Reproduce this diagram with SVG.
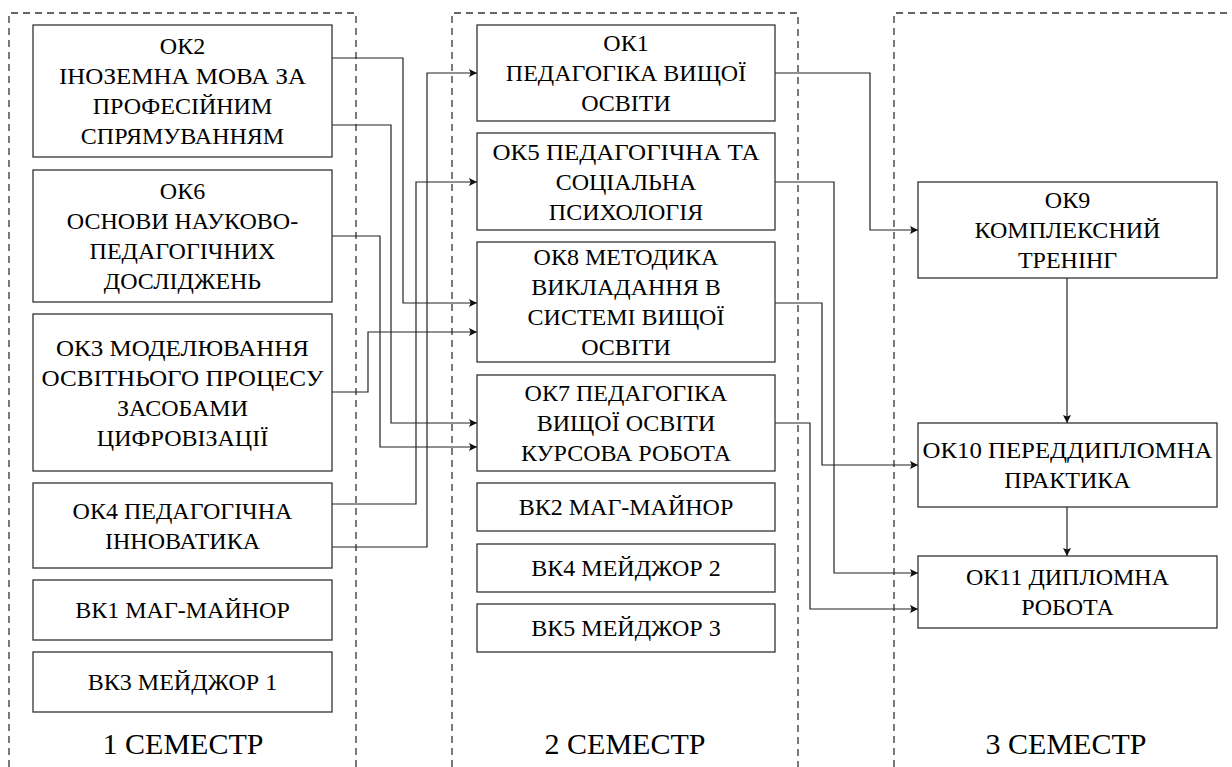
<svg xmlns="http://www.w3.org/2000/svg" width="1232" height="767" viewBox="0 0 1232 767">
<defs>
<marker id="arr" viewBox="0 0 10 10" refX="10" refY="5" markerWidth="10" markerHeight="8" orient="auto" markerUnits="userSpaceOnUse">
<path d="M0,0 L10,5 L0,10 L2,5 z" fill="#111"/>
</marker>
</defs>
<rect x="0" y="0" width="1232" height="767" fill="#ffffff"/>
<g id="semesters">
<g fill="none" stroke="#333" stroke-width="1.3" stroke-dasharray="7 5">
<path d="M9,767 V13 H356 V767"/>
<path d="M452,767 V13 H798 V767"/>
<path d="M894,767 V13 H1232"/>
</g>
<g font-family="Liberation Serif, Noto Serif CJK SC, serif" font-size="30" text-anchor="middle">
<text x="183" y="754">1 СЕМЕСТР</text>
<text x="625" y="754">2 СЕМЕСТР</text>
<text x="1066" y="754">3 СЕМЕСТР</text>
</g>
</g>
<g id="connectors" fill="none" stroke="#222" stroke-width="1.2">
<path d="M332,58 H403 V303 H477" marker-end="url(#arr)"/>
<path d="M332,125 H391 V423 H477" marker-end="url(#arr)"/>
<path d="M332,236 H380 V447 H477" marker-end="url(#arr)"/>
<path d="M332,392 H368 V332 H477" marker-end="url(#arr)"/>
<path d="M332,504 H416 V182 H477" marker-end="url(#arr)"/>
<path d="M332,547 H427 V73 H477" marker-end="url(#arr)"/>
<path d="M775,73 H870 V230 H918" marker-end="url(#arr)"/>
<path d="M775,182 H834 V573 H918" marker-end="url(#arr)"/>
<path d="M775,303 H822 V465 H918" marker-end="url(#arr)"/>
<path d="M775,423 H810 V609 H918" marker-end="url(#arr)"/>
<path d="M1067,278 V423" marker-end="url(#arr)"/>
<path d="M1067,507 V556" marker-end="url(#arr)"/>
</g>
<g id="boxes" fill="#ffffff" stroke="#333" stroke-width="1.3">
<rect id="ok2" x="33" y="25" width="299" height="132"/>
<rect id="ok6" x="33" y="170" width="299" height="132"/>
<rect id="ok3" x="33" y="314" width="299" height="157"/>
<rect id="ok4" x="33" y="483" width="299" height="85"/>
<rect id="vk1" x="33" y="580" width="299" height="60"/>
<rect id="vk3" x="33" y="652" width="299" height="60"/>
<rect id="ok1" x="477" y="25" width="298" height="96"/>
<rect id="ok5" x="477" y="133" width="298" height="97"/>
<rect id="ok8" x="477" y="242" width="298" height="120"/>
<rect id="ok7" x="477" y="375" width="298" height="96"/>
<rect id="vk2" x="477" y="483" width="298" height="48"/>
<rect id="vk4" x="477" y="544" width="298" height="48"/>
<rect id="vk5" x="477" y="604" width="298" height="48"/>
<rect id="ok9" x="918" y="182" width="299" height="96"/>
<rect id="ok10" x="918" y="423" width="299" height="84"/>
<rect id="ok11" x="918" y="556" width="299" height="72"/>
</g>
<g id="labels" font-family="Liberation Serif, Noto Serif CJK SC, serif" font-size="24" text-anchor="middle">
<text x="182.5" y="54">ОК2</text><text x="182.5" y="84" textLength="247" lengthAdjust="spacingAndGlyphs">ІНОЗЕМНА МОВА ЗА</text><text x="182.5" y="114">ПРОФЕСІЙНИМ</text><text x="182.5" y="144">СПРЯМУВАННЯМ</text>
<text x="182.5" y="199">ОК6</text><text x="182.5" y="229">ОСНОВИ НАУКОВО-</text><text x="182.5" y="259">ПЕДАГОГІЧНИХ</text><text x="182.5" y="289">ДОСЛІДЖЕНЬ</text>
<text x="182.5" y="355.5" textLength="253" lengthAdjust="spacingAndGlyphs">ОК3 МОДЕЛЮВАННЯ</text><text x="182.5" y="385.5" textLength="282" lengthAdjust="spacingAndGlyphs">ОСВІТНЬОГО ПРОЦЕСУ</text><text x="182.5" y="415.5">ЗАСОБАМИ</text><text x="182.5" y="445.5">ЦИФРОВІЗАЦІЇ</text>
<text x="182.5" y="518.5">ОК4 ПЕДАГОГІЧНА</text><text x="182.5" y="548.5">ІННОВАТИКА</text>
<text x="182.5" y="618">ВК1 МАГ-МАЙНОР</text>
<text x="182.5" y="690">ВК3 МЕЙДЖОР 1</text>
<text x="626" y="51">ОК1</text><text x="626" y="81">ПЕДАГОГІКА ВИЩОЇ</text><text x="626" y="111">ОСВІТИ</text>
<text x="626" y="159.5" textLength="267" lengthAdjust="spacingAndGlyphs">ОК5 ПЕДАГОГІЧНА ТА</text><text x="626" y="189.5">СОЦІАЛЬНА</text><text x="626" y="219.5">ПСИХОЛОГІЯ</text>
<text x="626" y="265">ОК8 МЕТОДИКА</text><text x="626" y="295">ВИКЛАДАННЯ В</text><text x="626" y="325">СИСТЕМІ ВИЩОЇ</text><text x="626" y="355">ОСВІТИ</text>
<text x="626" y="401">ОК7 ПЕДАГОГІКА</text><text x="626" y="431">ВИЩОЇ ОСВІТИ</text><text x="626" y="461">КУРСОВА РОБОТА</text>
<text x="626" y="515">ВК2 МАГ-МАЙНОР</text>
<text x="626" y="576">ВК4 МЕЙДЖОР 2</text>
<text x="626" y="636">ВК5 МЕЙДЖОР 3</text>
<text x="1067.5" y="208">ОК9</text><text x="1067.5" y="238">КОМПЛЕКСНИЙ</text><text x="1067.5" y="268">ТРЕНІНГ</text>
<text x="1067.5" y="458" textLength="290" lengthAdjust="spacingAndGlyphs">ОК10 ПЕРЕДДИПЛОМНА</text><text x="1067.5" y="488">ПРАКТИКА</text>
<text x="1067.5" y="585">ОК11 ДИПЛОМНА</text><text x="1067.5" y="615">РОБОТА</text>
</g>
</svg>
